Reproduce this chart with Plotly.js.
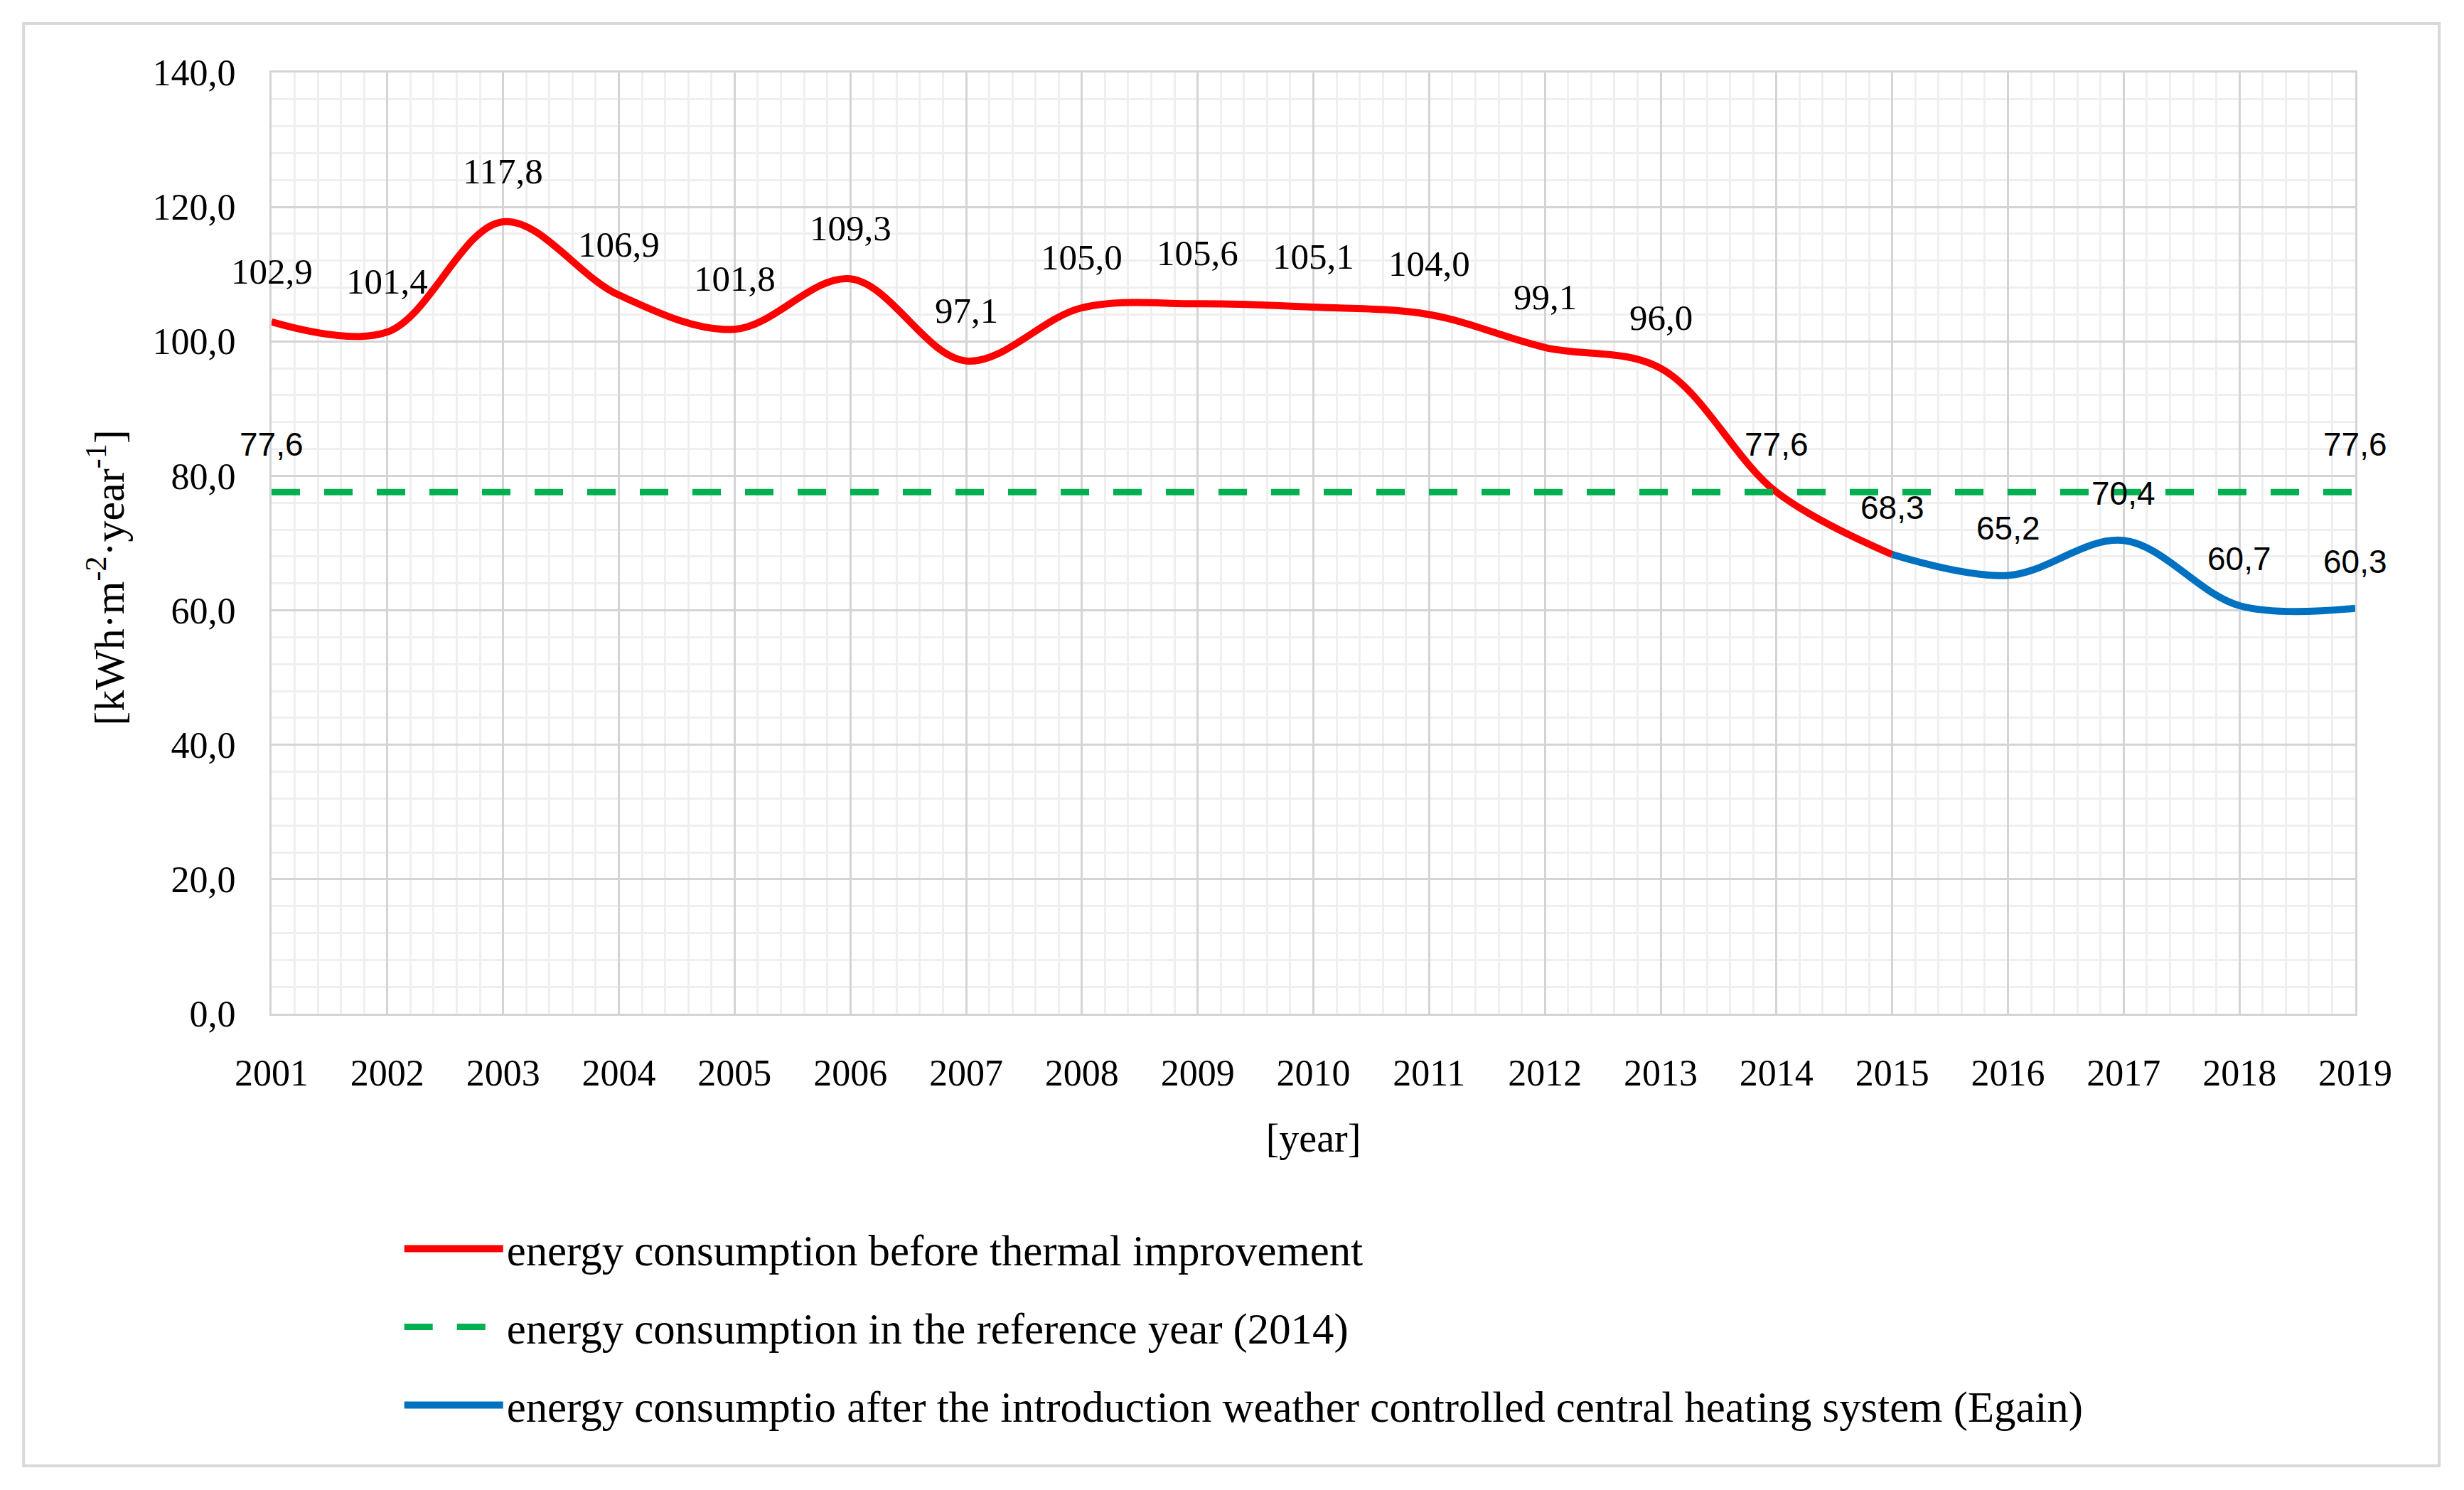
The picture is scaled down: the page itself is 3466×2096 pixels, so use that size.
<!DOCTYPE html>
<html>
<head>
<meta charset="utf-8">
<script src="https://cdn.plot.ly/plotly-3.0.1.min.js"></script>
<style>html,body{margin:0;padding:0;background:#fff;}#chart{width:3466px;height:2096px;}</style>
</head>
<body>
<div id="chart"></div>
<script>
// ---- data ----
const yearsBefore = [2001,2002,2003,2004,2005,2006,2007,2008,2009,2010,2011,2012,2013,2014,2015];
const valuesBefore = [102.9,101.4,117.8,106.9,101.8,109.3,97.1,105.0,105.6,105.1,104.0,99.1,96.0,77.6,68.3];
const yearsRef = [2001,2002,2003,2004,2005,2006,2007,2008,2009,2010,2011,2012,2013,2014,2015,2016,2017,2018,2019];
const valuesRef = [77.6,77.6,77.6,77.6,77.6,77.6,77.6,77.6,77.6,77.6,77.6,77.6,77.6,77.6,77.6,77.6,77.6,77.6,77.6];
const yearsAfter = [2015,2016,2017,2018,2019];
const valuesAfter = [68.3,65.2,70.4,60.7,60.3];
const labelYearsBefore = [2001,2002,2003,2004,2005,2006,2007,2008,2009,2010,2011,2012,2013];
const labelYearsRef = [2001,2014,2019];
const labelYearsAfter = [2015,2016,2017,2018,2019];
const yTickVals = [0,20,40,60,80,100,120,140];
const seriesNames = [
  'energy consumption before thermal improvement',
  'energy consumption in the reference year (2014)',
  'energy consumptio after the introduction weather controlled central heating system (Egain)'
];
const xTitle = '[year]';
const yTitle = '[kWh·m<sup>-2</sup>·year<sup>-1</sup>]';

// ---- styles ----
const serif = 'Liberation Serif, Times New Roman, serif';
const sans = 'Liberation Sans, Arial, sans-serif';
const fmt = v => v.toFixed(1).replace('.', ',');

const traces = [
  {x: yearsBefore, y: valuesBefore, name: seriesNames[0], mode: 'lines', legendgroup: 'a',
   line: {color: '#FF0000', width: 10, shape: 'spline', smoothing: 1}},
  {x: yearsRef, y: valuesRef, name: seriesNames[1], mode: 'lines', legendgroup: 'b',
   line: {color: '#00B050', width: 9, dash: '40px,34px'}},
  {x: yearsAfter, y: valuesAfter, name: seriesNames[2], mode: 'lines', legendgroup: 'c',
   line: {color: '#0070C0', width: 10, shape: 'spline', smoothing: 1}}
];

function labels(xs, ys, pick, family, size, shift) {
  const out = [];
  xs.forEach((x, i) => {
    if (pick.indexOf(x) >= 0) {
      out.push({x: x, y: ys[i], text: fmt(ys[i]), showarrow: false, yshift: shift,
        xanchor: 'center', yanchor: 'middle', font: {family: family, size: size, color: '#000'}});
    }
  });
  return out;
}
const annotations = []
  .concat(labels(yearsBefore, valuesBefore, labelYearsBefore, serif, 51, 71))
  .concat(labels(yearsRef, valuesRef, labelYearsRef, sans, 46, 67))
  .concat(labels(yearsAfter, valuesAfter, labelYearsAfter, sans, 46, 66));

annotations.push({xref: 'paper', yref: 'paper', x: -0.0792, y: 0.463, text: yTitle, textangle: -90,
  showarrow: false, xanchor: 'center', yanchor: 'middle', font: {family: serif, size: 60, color: '#000'}});

const layout = {
  width: 3466, height: 2096,
  margin: {l: 382, r: 153, t: 102, b: 670},
  paper_bgcolor: '#fff', plot_bgcolor: '#fff',
  separators: ',.',
  showlegend: true,
  font: {family: serif, size: 52, color: '#000'},
  xaxis: {
    range: [2001, 2019], tick0: 2001, dtick: 1, tickformat: 'd',
    showgrid: true, gridcolor: '#d4d4d4', gridwidth: 3,
    minor: {dtick: 0.2, showgrid: true, gridcolor: '#efefef', gridwidth: 3},
    showline: true, linecolor: '#d4d4d4', linewidth: 3, mirror: true,
    zeroline: false, ticks: '', ticklabelstandoff: 36,
    tickfont: {family: serif, size: 52, color: '#000'},
    title: {text: xTitle, standoff: 44, font: {family: serif, size: 56, color: '#000'}},
    automargin: false, fixedrange: true
  },
  yaxis: {
    range: [0, 140], tickvals: yTickVals, tickformat: '.1f',
    showgrid: true, gridcolor: '#d4d4d4', gridwidth: 3,
    minor: {dtick: 4, showgrid: true, gridcolor: '#efefef', gridwidth: 3},
    showline: true, linecolor: '#d4d4d4', linewidth: 3, mirror: true,
    zeroline: false, ticks: '', ticklabelstandoff: 37,
    tickfont: {family: serif, size: 52, color: '#000'},
    automargin: false, fixedrange: true
  },
  legend: {
    x: 0.062, y: -0.2148, xanchor: 'left', yanchor: 'top',
    orientation: 'v', traceorder: 'grouped', tracegroupgap: 28,
    itemwidth: 139, bgcolor: 'rgba(0,0,0,0)',
    font: {family: serif, size: 60.8, color: '#000'}
  },
  annotations: annotations,
  shapes: [{type: 'rect', xref: 'paper', yref: 'paper', x0: -0.119, x1: 1.0403, y0: -0.4804, y1: 1.0521,
    line: {color: '#d9d9d9', width: 4}, fillcolor: 'rgba(0,0,0,0)', layer: 'below'}]
};

Plotly.newPlot('chart', traces, layout, {displayModeBar: false, staticPlot: true});
</script>
</body>
</html>
